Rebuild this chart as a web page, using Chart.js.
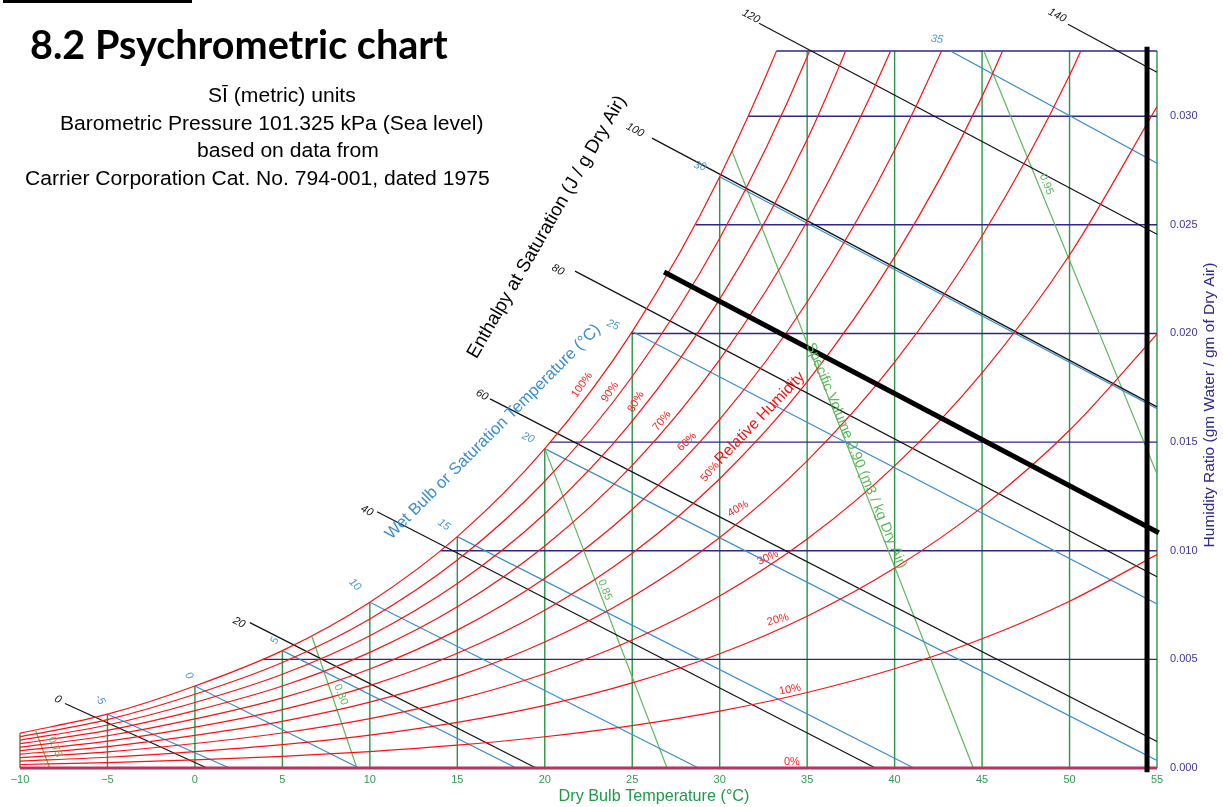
<!DOCTYPE html>
<html><head><meta charset="utf-8">
<script src="https://cdn.jsdelivr.net/npm/chart.js@4.4.0/dist/chart.umd.min.js"></script>
<style>html,body{margin:0;padding:0;background:#fff;overflow:hidden}canvas{display:block}</style>
</head><body>
<canvas id="c" width="1223" height="807"></canvas>
<script>
// ---------- data ----------
const temps = [-10,-5,0,5,10,15,20,25,30,35,40,45,50,55];
const xTicks = [-10,-5,0,5,10,15,20,25,30,35,40,45,50,55];
const xTickLabels = ['\u221210','\u22125','0','5','10','15','20','25','30','35','40','45','50','55'];
const yTicks = [0,0.005,0.010,0.015,0.020,0.025,0.030];
const yTickLabels = ['0.000','0.005','0.010','0.015','0.020','0.025','0.030'];
const yMax = 0.033;

// humidity ratio of each relative-humidity curve at temps[]
const rhLevels = [100,90,80,70,60,50,40,30,20,10];
const rh100 = [0.00160,0.002476,0.003775,0.005403,0.007632,0.010650,0.014699,0.020086,0.027210,0.036584,0.048894];
const rh90  = [0.001439,0.002227,0.003395,0.004859,0.006860,0.009569,0.013198,0.018019,0.024382,0.032733,0.043661];
const rh80  = [0.001279,0.001979,0.003016,0.004315,0.006091,0.008491,0.011704,0.015966,0.021579,0.028927,0.038510];
const rh70  = [0.001119,0.001731,0.002638,0.003772,0.005323,0.007417,0.010217,0.013925,0.018800,0.025165,0.033437,0.044154];
const rh60  = [0.000959,0.001483,0.002259,0.003231,0.004557,0.006347,0.008737,0.011898,0.016045,0.021446,0.028442,0.037466,0.049081];
const rh50  = [0.000799,0.001235,0.001882,0.002690,0.003793,0.005280,0.007264,0.009883,0.013313,0.017770,0.023522,0.030912,0.040370];
const rh40  = [0.000639,0.000988,0.001504,0.002150,0.003031,0.004217,0.005797,0.007882,0.010605,0.014135,0.018677,0.024486,0.031882,0.041268];
const rh30  = [0.000479,0.000741,0.001128,0.001611,0.002270,0.003157,0.004338,0.005893,0.007920,0.010541,0.013903,0.018186,0.023609,0.030446];
const rh20  = [0.000319,0.000494,0.000751,0.001073,0.001512,0.002101,0.002885,0.003916,0.005258,0.006988,0.009200,0.012007,0.015543,0.019972];
const rh10  = [0.000160,0.000247,0.000375,0.000536,0.000755,0.001049,0.001439,0.001952,0.002618,0.003475,0.004566,0.005946,0.007675,0.009828];
const rhCurves = [rh100,rh90,rh80,rh70,rh60,rh50,rh40,rh30,rh20,rh10];

// horizontal humidity-ratio lines: value and dry bulb where they meet saturation
const hrValues   = [0.005,0.010,0.015,0.020,0.025,0.030,0.033];
const hrSatTemps = [3.90,14.04,20.31,24.93,28.62,31.63,33.24];

// wet bulb lines
const wbTemps  = [-5,0,5,10,15,20,25,30,35];
const wbStartW = [0.002476,0.003775,0.005403,0.007632,0.010650,0.014699,0.020086,0.027210,0.036584];
const wbEndT   = [1.98,9.38,18.37,28.79,41.1,55,55,55,55];
const wbEndW   = [0,0,0,0,0,0.000346,0.00755,0.01654,0.02784];

// enthalpy lines (kJ/kg)
const enthValues = [0,20,40,60,80,100,120,140];
const enthStartT = [-7.43,3.14,10.41,16.87,21.73,26.13,32.25,49.91];
const enthStartW = [0.00297,0.00669,0.01179,0.01699,0.02287,0.02899,0.03428,0.03423];
const enthEndT   = [0.69,19.5,38.9,55,55,55,55,55];
const enthEndW   = [0,0,0,0.00122,0.0088,0.01662,0.02457,0.03202];

// specific volume lines (m3/kg)
const svLabels = ['0.75','0.80','0.85','0.90','0.95'];
const svStartT = [-9.1,6.69,20.0,30.7,45.1];
const svStartW = [0.0017,0.00605,0.0147,0.0284,0.033];
const svEndT   = [-8.3,9.26,26.99,44.5,55];
const svEndW   = [0,0,0,0,0.01353];

// heavy black process lines
const thickDiagT = [26.82,55.1];
const thickDiagW = [0.02283,0.01083];
const thickVertT = [54.43,54.43];
const thickVertW = [0.0332,-0.0002];

// ---------- datasets ----------
const ds = [];
function add(xs, ys, color, width, extra){
  ds.push(Object.assign({data: xs.map((x,i)=>({x, y: ys[i]})), borderColor: color, backgroundColor: color,
    borderWidth: width, pointRadius: 0, tension: 0, fill: false}, extra||{}));
}
// vertical dry bulb lines
temps.forEach((t,i)=>{
  const top = rh100[i] !== undefined ? Math.min(rh100[i], yMax) : yMax;
  add([t,t],[0,top],'#2a9448',1.4,{clip:2});
});
// horizontal lines
hrValues.forEach((w,i)=> add([hrSatTemps[i],55],[w,w],'#2e2592',1.4,{clip:2}));
// specific volume
svLabels.forEach((s,i)=> add([svStartT[i],svEndT[i]],[svStartW[i],svEndW[i]],'#5cb85c',1.2));
// wet bulb
wbTemps.forEach((t,i)=> add([t,wbEndT[i]],[wbStartW[i],wbEndW[i]],'#3b8ed0',1.2));
// enthalpy
enthValues.forEach((h,i)=> add([enthStartT[i],enthEndT[i]],[enthStartW[i],enthEndW[i]],'#111111',1.2,{clip:false}));
// RH curves
rhCurves.forEach(arr=> add(temps.slice(0,arr.length), arr, '#ff1010', 1.2, {cubicInterpolationMode:'monotone'}));
// 0% line
add([-10,55],[0,0],'#b8325a',3,{clip:false});
// thick lines
add(thickDiagT, thickDiagW, '#000000', 5, {clip:false});
add(thickVertT, thickVertW, '#000000', 5, {clip:false});
ds.reverse();

// ---------- labels plugin ----------
const FAM = "'Liberation Sans', Arial, sans-serif";
const labelPlugin = {
  id:'labels',
  afterDraw(chart){
    const c = chart.ctx;
    const X = v=>chart.scales.x.getPixelForValue(v), Y = v=>chart.scales.y.getPixelForValue(v);
    function txt(s,x,y,ang,font,color,align,base){
      c.save(); c.translate(x,y); c.rotate(ang*Math.PI/180); c.font=font; c.fillStyle=color;
      c.textAlign=align||'center'; c.textBaseline=base||'middle'; c.fillText(s,0,0); c.restore();
    }
    function fit(s, weight, family, target){ c.font = weight+' 100px '+family; return 100*target/c.measureText(s).width; }

    // title block
    c.fillStyle='#000'; c.fillRect(3,0,189,3);
    const tSize = fit('8.2 Psychrometric chart','bold',"Lato, 'Open Sans', sans-serif",418);
    txt('8.2 Psychrometric chart',30,59,0,'bold '+tSize.toFixed(2)+"px Lato, 'Open Sans', sans-serif",'#000','left','alphabetic');
    const sSize = fit('Carrier Corporation Cat. No. 794-001, dated 1975','',FAM,465);
    const sf = sSize.toFixed(2)+'px '+FAM;
    txt('S\u012A (metric) units',208,102,0,sf,'#000','left','alphabetic');
    txt('Barometric Pressure 101.325 kPa (Sea level)',60,130,0,sf,'#000','left','alphabetic');
    txt('based on data from',197,157,0,sf,'#000','left','alphabetic');
    txt('Carrier Corporation Cat. No. 794-001, dated 1975',25,185,0,sf,'#000','left','alphabetic');

    // axis titles
    const xs = fit('Dry Bulb Temperature (\u00B0C)','',FAM,191);
    txt('Dry Bulb Temperature (\u00B0C)',654,797,0,xs.toFixed(2)+'px '+FAM,'#1f9a48');
    const ys = fit('Humidity Ratio (gm Water / gm of Dry Air)','',FAM,285);
    txt('Humidity Ratio (gm Water / gm of Dry Air)',1210,405,-90,ys.toFixed(2)+'px '+FAM,'#2d2a8f');

    // rotated titles inside the chart
    const es = fit('Enthalpy at Saturation (J / g Dry Air)','',FAM,300);
    txt('Enthalpy at Saturation (J / g Dry Air)',X(20.13),Y(0.02490),-60,es.toFixed(2)+'px '+FAM,'#000');
    const ws = fit('Wet Bulb or Saturation Temperature (\u00B0C)','',FAM,297);
    txt('Wet Bulb or Saturation Temperature (\u00B0C)',X(17.04),Y(0.01547),-45,ws.toFixed(2)+'px '+FAM,'#3b8ed0');
    const rs = fit('Relative Humidity','',FAM,122);
    txt('Relative Humidity',X(32.3),Y(0.01610),-46,rs.toFixed(2)+'px '+FAM,'#ff1010');
    const vs = fit('Specific Volume 0.90 (m3 / kg Dry Air)','',FAM,243);
    txt('Specific Volume 0.90 (m3 / kg Dry Air)',X(37.80),Y(0.01437),67.5,vs.toFixed(2)+'px '+FAM,'#5cb85c');

    // RH labels
    const rhPos = [[22.13,0.01763,-55],[23.73,0.01731,-55],[25.21,0.01685,-60],[26.70,0.01598,-50],[28.13,0.01501,-45],
                   [29.45,0.01363,-50],[31.05,0.01193,-30],[32.76,0.00968,-25],[33.33,0.00683,-15],[34.02,0.00361,-10]];
    rhLevels.forEach((v,i)=> txt(v+'%',X(rhPos[i][0]),Y(rhPos[i][1]),rhPos[i][2],'11px '+FAM,'#ff2020'));
    txt('0%',X(34.13),Y(0.0003),0,'11px '+FAM,'#ff2020');

    // wet bulb labels
    const wbPos = [[-5.43,0.00315,60],[-0.34,0.00425,60],[4.57,0.00586,-65],[9.15,0.00844,45],[14.24,0.0112,35],
                   [19.04,0.0152,25],[23.90,0.02039,22],[28.87,0.0277,15],[42.42,0.03354,8]];
    wbTemps.forEach((t,i)=> txt(String(t),X(wbPos[i][0]),Y(wbPos[i][1]),wbPos[i][2],'italic 11px '+FAM,'#4a98cf'));

    // enthalpy labels
    const ePos = [[-7.83,0.00315],[2.52,0.00669],[9.83,0.01184],[16.41,0.01717],[20.75,0.02292],[25.16,0.02936],[31.79,0.0346],[49.29,0.03464]];
    enthValues.forEach((h,i)=> txt(String(h),X(ePos[i][0]),Y(ePos[i][1]),28,'italic 11px '+FAM,'#111'));

    // specific volume labels
    const svPos = [[-8.0,0.00097],[8.34,0.00338],[23.43,0.00820],null,[48.67,0.02686]];
    svLabels.forEach((s,i)=>{ if(svPos[i]) txt(s,X(svPos[i][0]),Y(svPos[i][1]),68,'11px '+FAM,'#5cb85c'); });
  }
};

new Chart(document.getElementById('c'), {
  type:'line',
  data:{datasets: ds},
  options:{
    responsive:false, animation:false, events:[],
    layout:{padding:{left:20, top:51, right:0, bottom:0}},
    plugins:{legend:{display:false}, tooltip:{enabled:false}},
    elements:{point:{radius:0}},
    scales:{
      x:{type:'linear', min:-10, max:55, position:'bottom',
         grid:{display:false, drawTicks:false}, border:{display:false},
         afterBuildTicks:s=>{s.ticks = xTicks.map(v=>({value:v}));},
         afterFit:s=>{s.height = 39;},
         ticks:{color:'#2e9e4f', font:{size:11, family:FAM}, padding:5, maxRotation:0, autoSkip:false,
                callback:(v,i)=>xTickLabels[i]}},
      y:{type:'linear', min:0, max:yMax, position:'right',
         grid:{display:false, drawTicks:false}, border:{display:false},
         afterBuildTicks:s=>{s.ticks = yTicks.map(v=>({value:v}));},
         afterFit:s=>{s.width = 66;},
         ticks:{color:'#3d3599', font:{size:11, family:FAM}, padding:13, autoSkip:false,
                callback:(v,i)=>yTickLabels[i]}}
    }
  },
  plugins:[labelPlugin]
});
</script>
</body></html>
